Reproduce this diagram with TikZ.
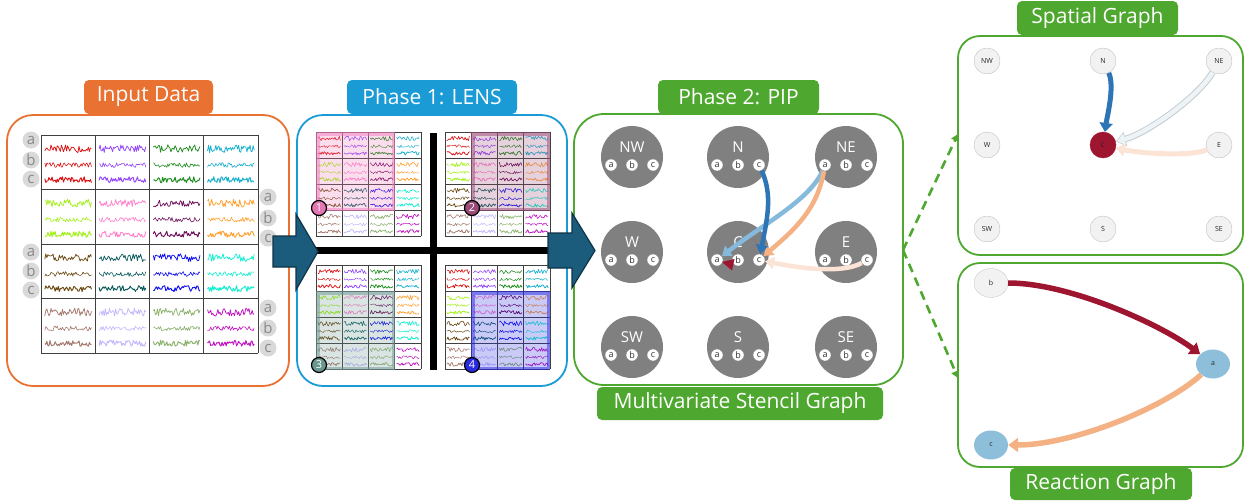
\documentclass[tikz,border=0pt]{standalone}
\usepackage{fontspec}
\setmainfont{Open Sans}
\usetikzlibrary{arrows.meta,calc,shapes.geometric}
\definecolor{cOr}{HTML}{E97132}
\definecolor{cBl}{HTML}{1A9BD6}
\definecolor{cGr}{HTML}{4EA72E}
\definecolor{cTeal}{HTML}{1B5C7C}
\definecolor{cTealD}{HTML}{0E3447}
\definecolor{cLab}{HTML}{D9D9D9}
\definecolor{cLabT}{HTML}{8A8A8A}
\definecolor{cGray}{HTML}{808080}
\definecolor{cDBlue}{HTML}{2E75B6}
\definecolor{cLBlue}{HTML}{86BADC}
\definecolor{cSalm}{HTML}{F4B183}
\definecolor{cPeach}{HTML}{FBE3D6}
\definecolor{cDRed}{HTML}{9E1530}
\definecolor{cPale}{HTML}{EEF3F6}
\definecolor{cPaleD}{HTML}{C2CDD4}
\definecolor{cNode}{HTML}{F2F2F2}
\definecolor{cRBlue}{HTML}{8DBFDB}
\definecolor{tsA}{HTML}{DD1010}
\definecolor{tsB}{HTML}{9448FA}
\definecolor{tsC}{HTML}{1E8C1E}
\definecolor{tsD}{HTML}{18B0CF}
\definecolor{tsE}{HTML}{A2F018}
\definecolor{tsF}{HTML}{FF82CC}
\definecolor{tsG}{HTML}{6E0E58}
\definecolor{tsH}{HTML}{FFA030}
\definecolor{tsI}{HTML}{6B4A12}
\definecolor{tsJ}{HTML}{0D5C5C}
\definecolor{tsK}{HTML}{1010EE}
\definecolor{tsL}{HTML}{10F0D0}
\definecolor{tsM}{HTML}{A57A6E}
\definecolor{tsN}{HTML}{C0B8FF}
\definecolor{tsO}{HTML}{8DB26E}
\definecolor{tsP}{HTML}{C010C0}
\definecolor{hA}{HTML}{F07CBC}
\definecolor{hB}{HTML}{9A4A76}
\definecolor{hC}{HTML}{6A9690}
\definecolor{hD}{HTML}{2A2AE0}
\newcommand{\tsgrid}[7]{%
 \foreach \col [count=\i from 0] in {tsA,tsB,tsC,tsD,tsE,tsF,tsG,tsH,tsI,tsJ,tsK,tsL,tsM,tsN,tsO,tsP}{%
   \pgfmathtruncatemacro{\rr}{floor(\i/4)}%
   \pgfmathtruncatemacro{\cc}{mod(\i,4)}%
   \pgfmathsetmacro{\xa}{#1+\cc*#3+0.07*#3}%
   \pgfmathsetmacro{\xb}{#1+\cc*#3+0.93*#3}%
   \pgfmathsetmacro{\cy}{#2+\rr*#4}%
   \foreach \f/\lw/\am in {0.25/0.75/1.3,0.55/0.6/0.8,0.82/0.95/1.0}{%
     \draw[\col, line width=\lw*#7, line join=round] plot[domain=\xa:\xb, samples=#6] (\x,{\cy+\f*#4+\am*#5*rand});
   }%
 }%
 \foreach \k in {0,...,4}{%
   \draw[gridl] ({#1+\k*#3},#2) -- ({#1+\k*#3},{#2+4*#4});
   \draw[gridl] (#1,{#2+\k*#4}) -- ({#1+4*#3},{#2+\k*#4});
 }%
}
\begin{document}
\begin{tikzpicture}[x=1pt,y=-1pt,
  panel/.style={draw, line width=1.8, rounded corners=26, inner sep=0},
  tbox/.style={fill, rounded corners=5, text=white, font=\fontsize{21}{25}\selectfont, inner sep=0},
  gridl/.style={draw=black!75, line width=1},
  lab/.style={circle, fill=cLab, text=cLabT, minimum size=17, inner sep=0, font=\fontsize{15}{15}\selectfont},
  mk/.style={circle, draw=black, line width=1.2, minimum size=15, inner sep=0, text=white, font=\fontsize{11}{11}\selectfont},
  pipc/.style={circle, fill=cGray, minimum size=62, inner sep=0},
  piplab/.style={text=white, font=\fontsize{15}{15}\selectfont, inner sep=0},
  sub/.style={circle, fill=white, draw=cGray, line width=0.3, minimum size=12, inner sep=0, font=\fontsize{9}{9}\selectfont, text=black!80},
  snode/.style={circle, fill=cNode, draw=black!25, line width=0.4, minimum size=26, inner sep=0, font=\fontsize{7}{7}\selectfont, text=black!85},
  rnode/.style={ellipse, minimum width=34, minimum height=29, inner sep=0, font=\fontsize{7}{7}\selectfont, text=black!85},
  bigarrow/.style={fill=cTeal, draw=cTealD, line width=1.2, line join=miter},
  dashg/.style={draw=cGr, line width=2.6, dash pattern=on 9 off 6, -{Triangle[length=7,width=8]}},
]
\useasboundingbox (0,0) rectangle (1250,501);
\pgfmathsetseed{4242}

% panels
\node[panel, draw=cOr, minimum width=282, minimum height=271] (pIn) at (148,250.5) {};
\node[panel, draw=cBl, minimum width=270, minimum height=271] (pLens) at (432,250.5) {};
\node[panel, draw=cGr, minimum width=329, minimum height=271, rounded corners=30] (pPip) at (738.5,249.5) {};
\node[panel, draw=cGr, minimum width=285, minimum height=219, rounded corners=22] (pSp) at (1100.5,145.5) {};
\node[panel, draw=cGr, minimum width=285, minimum height=204, rounded corners=22] (pRe) at (1100.5,365) {};

% titles
\node[tbox, fill=cOr, minimum width=129, minimum height=34] (tIn) at (148.5,97) {Input Data};
\node[tbox, fill=cBl, minimum width=170, minimum height=34] (tLens) at (432,97) {Phase 1: LENS};
\node[tbox, fill=cGr, minimum width=161, minimum height=34] (tPip) at (738.5,97) {Phase 2: PIP};
\node[tbox, fill=cGr, minimum width=286, minimum height=33] (tMsg) at (740,403.5) {Multivariate Stencil Graph};
\node[tbox, fill=cGr, minimum width=161, minimum height=34] (tSp) at (1097.5,18) {Spatial Graph};
\node[tbox, fill=cGr, minimum width=182, minimum height=32] (tRe) at (1101,484) {Reaction Graph};

% input grid
\tsgrid{41}{135}{54.25}{54.5}{3}{46}{1}
\foreach \nm/\px/\py in {a/31/140,b/31/160,c/31/179,a/31/252,b/31/271,c/31/290,
                         a/268/197,b/268/218,c/268/238,a/268/308,b/268/328,c/268/348}{
  \node[lab] at (\px,\py) {\nm};
}

% LENS grids
\begin{scope}[gridl/.style={draw=black!75, line width=0.8}]
\tsgrid{316}{132}{26.25}{26}{1.8}{22}{0.8}
\tsgrid{445}{132}{26.25}{26}{1.8}{22}{0.8}
\tsgrid{316}{265}{26.25}{26}{1.8}{22}{0.8}
\tsgrid{445}{265}{26.25}{26}{1.8}{22}{0.8}
\end{scope}
% highlights
\foreach \hc/\xa/\ya in {hA/316/132, hB/471/132, hC/316/291, hD/471/291}{
  \fill[\hc, opacity=0.25] (\xa,\ya) rectangle ++(79,79);
  \draw[\hc, opacity=0.5, line width=3.5] ($(\xa,\ya)+(1.75,1.75)$) rectangle ++(75.5,75.5);
}
% cross
\fill[black] (429.5,133) rectangle (436.5,370);
\fill[black] (316,246.5) rectangle (550,253.5);
% markers
\node[mk, fill=hA!95!black] (m1) at (319,208) {1};
\node[mk, fill=hB] (m2) at (472,208) {2};
\node[mk, fill=hC] (m3) at (319,365) {3};
\node[mk, fill=hD] (m4) at (472,365) {4};

% big arrows
\draw[bigarrow] (273,236) -- (296,236) -- (296,214) -- (318,251.5) -- (296,290) -- (296,267) -- (273,267) -- cycle;
\draw[bigarrow] (548,233) -- (572,233) -- (572,213) -- (595,250.5) -- (572,288) -- (572,268) -- (548,268) -- cycle;

% PIP nodes
\foreach \nm/\px/\py in {NW/632/157, N/738/157, NE/846/157, W/632/252, C/738/252, E/846/252, SW/632/347, S/738/347, SE/846/347}{
  \node[pipc] (\nm) at (\px,\py) {};
  \node[piplab] (\nm-l) at (\px,\py-10) {\nm};
  \foreach \s/\dx in {a/-21,b/0,c/21}{
    \node[sub] (\nm-\s) at (\px+\dx,\py+8) {\s};
  }
}
% PIP edges
\draw[cPeach, line width=4.5, -{Triangle[length=9,width=12]}] (E-c) .. controls +(-25,14) and +(40,8) .. (C-c);
\draw[cLBlue, line width=4.5, -{Triangle[length=9,width=12]}] (NE-a) .. controls +(-15,35) and +(45,-35) .. (C-a);
\draw[cSalm, line width=4.5, -{Triangle[length=9,width=12]}] (NE-a) .. controls +(-8,45) and +(35,-30) .. (C-c);
\draw[cDBlue, line width=4.5, -{Triangle[length=9,width=12]}] (N-c) .. controls +(14,30) and +(8,-40) .. (C-c);
\fill[cDRed] (722,262) -- (734.5,259) -- (732,270.5) -- cycle;

% dashed connectors
\coordinate (dsrc) at (903,250);
\coordinate (dSp) at (958,134);
\coordinate (dRe) at (958,378);
\draw[dashg] (dsrc) -- (dSp);
\draw[dashg] (dsrc) -- (dRe);

% spatial graph
\foreach \nm/\px/\py in {NW/987/61, N/1103/61, NE/1219/61, W/987/145, E/1219/145, SW/987/229, S/1103/229, SE/1219/229}{
  \node[snode] (s\nm) at (\px,\py) {\nm};
}
\node[snode, fill=cDRed, draw=cDRed] (sC) at (1103,145) {C};
\draw[cDBlue, line width=5, -{Triangle[length=9,width=13]}] (sN) .. controls +(12,25) and +(4,-28) .. (sC);
\draw[cPaleD, line width=6.5, -{Triangle[length=10,width=14]}] (sNE) .. controls +(-20,35) and +(45,-12) .. (sC);
\draw[cPale, line width=4.5, shorten >=1.2, -{Triangle[length=8,width=11.5]}] (sNE) .. controls +(-20,35) and +(45,-12) .. (sC);
\draw[cPeach, line width=5, -{Triangle[length=9,width=13]}] (sE) .. controls +(-30,12) and +(35,8) .. (sC);

% reaction graph
\node[rnode, fill=cNode, draw=black!20, line width=0.4] (rb) at (991,283) {b};
\node[rnode, fill=cRBlue] (ra) at (1213,364) {a};
\node[rnode, fill=cRBlue] (rc) at (991,445) {c};
\draw[cDRed, line width=5.5, -{Triangle[length=10,width=14]}] (rb) .. controls +(80,0) and +(-50,-38) .. (ra);
\draw[cSalm, line width=5.5, -{Triangle[length=10,width=14]}] (ra) .. controls +(-50,45) and +(80,0) .. (rc);
\end{tikzpicture}
\end{document}
